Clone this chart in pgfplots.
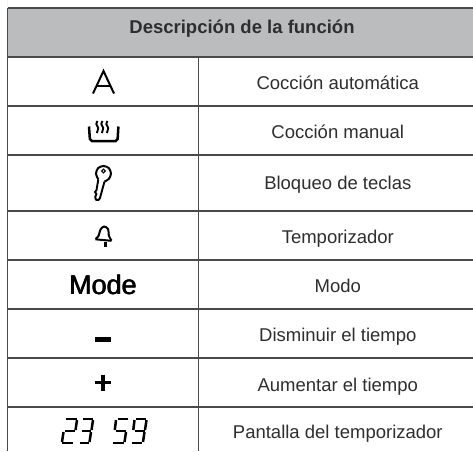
\documentclass[border=0pt]{standalone}
\usepackage{pgfplots}
\pgfplotsset{compat=1.18}
\usepackage{fontspec}
\setmainfont{Liberation Sans}
\definecolor{hdr}{HTML}{BBBCBE}
\definecolor{rule}{HTML}{4A4A4A}
\definecolor{txt}{HTML}{2E2E2E}
\begin{document}
\begin{tikzpicture}[x=1pt,y=1pt]
\begin{axis}[
  scale only axis, width=473pt, height=451pt,
  xmin=0, xmax=473, ymin=0, ymax=451, y dir=reverse,
  hide axis, clip=true,
]
% background and header fill
\addplot[fill=white,draw=none] coordinates {(0,0)(473,0)(473,451)(0,451)} \closedcycle;
\addplot[fill=hdr,draw=none] coordinates {(7.5,8)(473,8)(473,57)(7.5,57)} \closedcycle;
% rules
\addplot[rule,line width=1.4pt] coordinates {(7.5,8)(473,8)};
\addplot[rule,line width=1.4pt] coordinates {(7.5,57)(473,57)};
\addplot[rule,line width=1.25pt] coordinates {(7.5,106)(473,106)};
\addplot[rule,line width=1.25pt] coordinates {(7.5,155)(473,155)};
\addplot[rule,line width=1.25pt] coordinates {(7.5,211)(473,211)};
\addplot[rule,line width=1.25pt] coordinates {(7.5,260)(473,260)};
\addplot[rule,line width=1.25pt] coordinates {(7.5,309)(473,309)};
\addplot[rule,line width=1.25pt] coordinates {(7.5,358)(473,358)};
\addplot[rule,line width=1.25pt] coordinates {(7.5,407)(473,407)};
\addplot[rule,line width=1.25pt] coordinates {(7.5,8)(7.5,451)};
\addplot[rule,line width=1.25pt] coordinates {(198.5,57)(198.5,451)};
% texts
\node[font=\fontsize{18.5}{20}\selectfont\bfseries,text=txt,anchor=base] at (axis cs:242,33) {Descripción de la función};
\foreach \y/\t in {89/Cocción automática,138/Cocción manual,189/Bloqueo de teclas,243/Temporizador,292/Modo,341/Disminuir el tiempo,391/Aumentar el tiempo,438/Pantalla del temporizador}{
  \edef\tmp{\noexpand\node[font=\noexpand\fontsize{18.5}{20}\noexpand\selectfont,text=txt,anchor=base] at (axis cs:337.8,\y) {\t};}\tmp
}
% A
\addplot[black,line width=2pt,line join=miter] coordinates {(93,93.5)(103.5,71)(114,93.5)};
\addplot[black,line width=2pt] coordinates {(96.8,86)(110.2,86)};
% steam bowl
\addplot[black,line width=2.5pt,rounded corners=2pt] coordinates {(89,126.5)(90,141)(117.5,141)(118.4,126.5)};
\addplot[black,line width=1.9pt,smooth] coordinates {(97.5,121)(96.3,124)(98.2,128)(96.8,133)};
\addplot[black,line width=1.9pt,smooth] coordinates {(102.5,121)(101.3,124)(103.2,128)(101.8,133)};
\addplot[black,line width=1.9pt,smooth] coordinates {(107.5,121)(106.3,124)(108.2,128)(106.8,133)};
% key
\addplot[black,line width=2pt,smooth] coordinates {(98.3,179.5)(96,173.5)(98.2,168)(103.5,166)(108.8,168)(111,173.5)(108.8,179)(104.5,181.5)};
\draw[black,line width=1.1pt] (axis cs:103.5,171) circle[radius=1.8pt];
\addplot[black,line width=1.9pt,line join=round] coordinates {(98.3,179.5)(96.5,190)(95,192)(96.5,194)(95.2,197)(96,199.8)(98.5,200)(100,198)(104.5,181.5)};
% bell
\addplot[black,line width=2pt,smooth] coordinates {(95.5,239)(98.5,236)(100.5,229.5)(104,226.5)(108,229)(109,236)(111.5,240.5)};
\addplot[black,line width=2pt] coordinates {(95.5,239.3)(111.5,240.8)};
\addplot[black,line width=3.6pt] coordinates {(105.3,242)(105.3,246.5)};
% Mode
\node[font=\fontsize{27}{28}\selectfont,text=black,anchor=base] at (axis cs:102.7,294) {Mode};
\node[font=\fontsize{27}{28}\selectfont,text=black,anchor=base] at (axis cs:103,294) {Mode};
\node[font=\fontsize{27}{28}\selectfont,text=black,anchor=base] at (axis cs:103.3,294) {Mode};
% minus and plus
\addplot[black,line width=5pt] coordinates {(95,339.5)(111,339.5)};
\addplot[black,line width=3.2pt] coordinates {(95,382.8)(111,382.8)};
\addplot[black,line width=3.2pt] coordinates {(103,374.5)(103,391)};
% seven-segment 2
\addplot[black,line width=2.5pt] coordinates {(66,419)(76.5,419)};
\addplot[black,line width=2.5pt] coordinates {(77,420)(75.5,430)};
\addplot[black,line width=2.5pt] coordinates {(65,431)(74.5,431)};
\addplot[black,line width=2.5pt] coordinates {(63.5,432)(62,442)};
\addplot[black,line width=2.5pt] coordinates {(62,443)(72.5,443)};
% 3
\addplot[black,line width=2.5pt] coordinates {(83,419)(92.5,419)};
\addplot[black,line width=2.5pt] coordinates {(93,420)(91.5,430)};
\addplot[black,line width=2.5pt] coordinates {(82,431)(91,431)};
\addplot[black,line width=2.5pt] coordinates {(91,432)(89.5,442)};
\addplot[black,line width=2.5pt] coordinates {(79.5,443)(88.5,443)};
% 5
\addplot[black,line width=2.5pt] coordinates {(117.5,419)(128,419)};
\addplot[black,line width=2.5pt] coordinates {(116,420)(114.8,430)};
\addplot[black,line width=2.5pt] coordinates {(116,431)(126,431)};
\addplot[black,line width=2.5pt] coordinates {(126,432)(124.5,442)};
\addplot[black,line width=2.5pt] coordinates {(113,443)(123.5,443)};
% 9
\addplot[black,line width=2.5pt] coordinates {(136,419)(146,419)};
\addplot[black,line width=2.5pt] coordinates {(134.5,420)(133.3,430)};
\addplot[black,line width=2.5pt] coordinates {(146.5,420)(145,430)};
\addplot[black,line width=2.5pt] coordinates {(134.5,431)(145,431)};
\addplot[black,line width=2.5pt] coordinates {(144.5,432)(143,442)};
\addplot[black,line width=2.5pt] coordinates {(131.5,443)(142,443)};
\end{axis}
\end{tikzpicture}
\end{document}
